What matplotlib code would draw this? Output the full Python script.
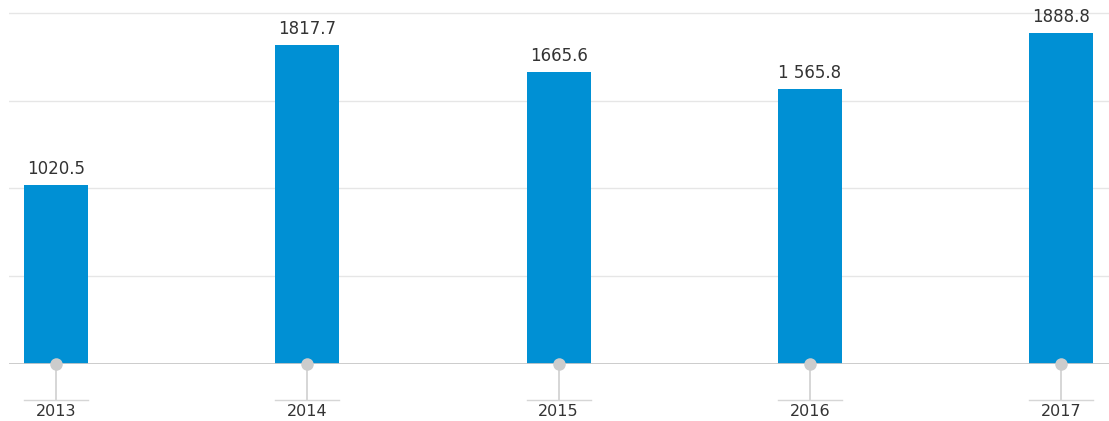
import matplotlib
matplotlib.use("Agg")
import matplotlib.pyplot as plt

years = ["2013", "2014", "2015", "2016", "2017"]
values = [1020.5, 1817.7, 1665.6, 1565.8, 1888.8]
value_labels = ["1020.5", "1817.7", "1665.6", "1 565.8", "1888.8"]
grid_values = [500, 1000, 1500, 2000]

W, H = 1109, 421
fig = plt.figure(figsize=(W / 100, H / 100), dpi=100)
base_px = 364
ax = fig.add_axes([9 / W, (H - base_px) / H, 1 - 9 / W, base_px / H])

bar_color = "#0090d4"
x = list(range(len(years)))
bw = 0.255
ax.bar(x, values, width=bw, color=bar_color, zorder=2)

ax.set_xlim(-0.187, 4.19)
ax.set_ylim(0, 2074)

for g in grid_values:
    ax.axhline(g, color="#e6e6e6", lw=1.0, zorder=0)
ax.axhline(0, color="#c8c8c8", lw=2.0, zorder=3)

for s in ax.spines.values():
    s.set_visible(False)
ax.set_xticks([])
ax.set_yticks([])

for xi, v, lab in zip(x, values, value_labels):
    ax.annotate(lab, (xi, v), xytext=(0, 5), textcoords="offset points",
                ha="center", va="bottom", fontsize=12, color="#333333",
                family="DejaVu Sans")

tr = ax.get_xaxis_transform()
ybar = -36 / base_px
for xi, yr in zip(x, years):
    ax.plot([xi, xi], [0, ybar], transform=tr, color="#cfcfcf", lw=1.2,
            clip_on=False, zorder=3)
    ax.plot([xi - bw / 2, xi + bw / 2], [ybar, ybar], transform=tr,
            color="#d6d6d6", lw=1.0, clip_on=False, zorder=3)
    ax.plot([xi], [0], marker="o", markersize=9, color="#cccccc",
            markeredgewidth=0, transform=tr, clip_on=False, zorder=4)
    ax.text(xi, -55 / base_px, yr, transform=tr, ha="center", va="bottom",
            fontsize=11.5, color="#333333", family="DejaVu Sans")

fig.savefig("out.png", dpi=100)
